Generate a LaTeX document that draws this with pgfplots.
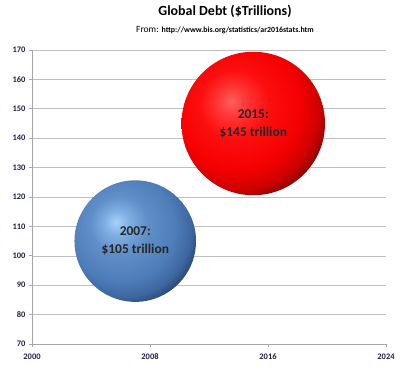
\documentclass[border=0pt]{standalone}
\usepackage{pgfplots}
\pgfplotsset{compat=1.18}
\usepackage{fontspec}
\setmainfont{Carlito}
\definecolor{ticklab}{HTML}{1F1F4F}
\definecolor{gridc}{HTML}{BFBFBF}
\definecolor{axc}{HTML}{A6A6A6}
\pgfdeclareradialshading{exblue}{\pgfpoint{-8bp}{8bp}}{%
  color(0bp)=(rgb,255:red,165;green,210;blue,252);
  color(5bp)=(rgb,255:red,128;green,175;blue,228);
  color(12bp)=(rgb,255:red,95;green,142;blue,200);
  color(22bp)=(rgb,255:red,78;green,125;blue,185);
  color(28bp)=(rgb,255:red,62;green,103;blue,160);
  color(32bp)=(rgb,255:red,40;green,68;blue,112);
  color(36bp)=(rgb,255:red,18;green,32;blue,55);
  color(75bp)=(rgb,255:red,18;green,32;blue,55)}
\pgfdeclareradialshading{exred}{\pgfpoint{-8bp}{8bp}}{%
  color(0bp)=(rgb,255:red,255;green,95;blue,95);
  color(5bp)=(rgb,255:red,255;green,55;blue,55);
  color(12bp)=(rgb,255:red,252;green,15;blue,15);
  color(22bp)=(rgb,255:red,245;green,0;blue,0);
  color(28bp)=(rgb,255:red,205;green,0;blue,0);
  color(32bp)=(rgb,255:red,130;green,0;blue,0);
  color(36bp)=(rgb,255:red,60;green,0;blue,0);
  color(75bp)=(rgb,255:red,60;green,0;blue,0)}
\pgfdeclareplotmark{exblueball}{\pgfpathcircle{\pgfpointorigin}{\pgfplotmarksize}\pgfshadepath{exblue}{0}\pgfusepath{discard}}
\pgfdeclareplotmark{exredball}{\pgfpathcircle{\pgfpointorigin}{\pgfplotmarksize}\pgfshadepath{exred}{0}\pgfusepath{discard}}
\begin{document}
\begin{tikzpicture}[x=1bp,y=1bp]
\path[use as bounding box] (0,0) rectangle (400,378);
\node[font=\bfseries\fontsize{14}{16}\selectfont] at (225,367) {Global Debt (\$Trillions)};
\node[font=\fontsize{9.5}{11}\selectfont] at (225,348) {From: {\bfseries\fontsize{7.9}{9}\selectfont http://www.bis.org/statistics/ar2016stats.htm}};
\begin{axis}[
  at={(32bp,34bp)}, anchor=south west,
  scale only axis, width=354bp, height=294bp,
  xmin=2000, xmax=2024, ymin=70, ymax=170,
  xtick={2000,2008,2016,2024},
  ytick={70,80,...,170},
  /pgf/number format/.cd, set thousands separator={}, assume math mode=true,
  /pgfplots/.cd,
  axis x line*=bottom, axis y line*=left,
  axis line style={axc, line width=0.8pt, -},
  ymajorgrids, grid style={gridc, line width=0.6pt},
  tick align=outside, major tick length=3bp,
  tick style={axc, line width=0.8pt},
  ticklabel style={font=\bfseries\fontsize{8.5}{9}\selectfont, text=ticklab},
  xticklabel style={yshift=-3bp},
  clip=false,
]
\addplot[only marks, mark=exblueball, mark size=61pt] coordinates {(2007,105)};
\addplot[only marks, mark=exredball, mark size=72pt] coordinates {(2015,145)};
\coordinate (lb) at (axis cs:2007,105);
\coordinate (lr) at (axis cs:2015,145);
\end{axis}
\node[align=center, font=\bfseries\fontsize{13.5}{18}\selectfont, text=black!85] at (lb) {2007:\\\$105 trillion};
\node[align=center, font=\bfseries\fontsize{13.5}{18}\selectfont, text=black!85] at (lr) {2015:\\\$145 trillion};
\end{tikzpicture}
\end{document}
